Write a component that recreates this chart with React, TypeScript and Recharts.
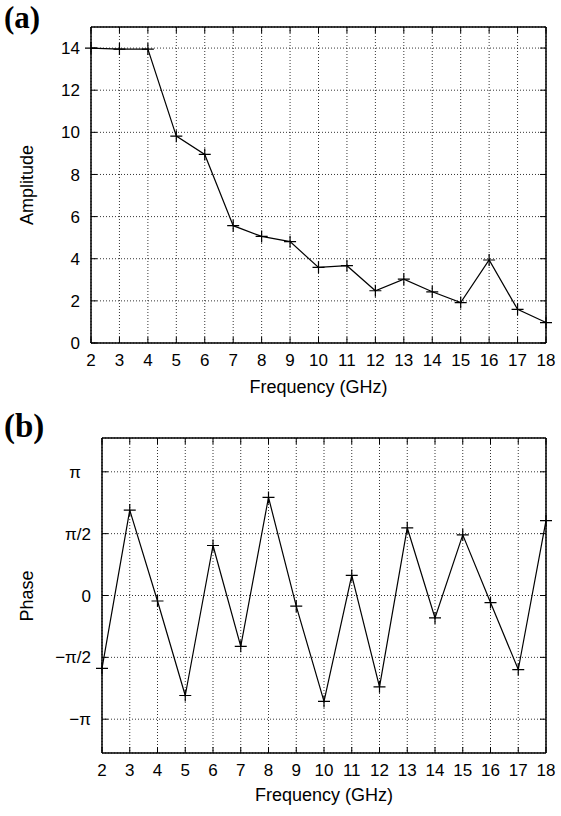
import React from 'react';
import { LineChart, Line, XAxis, YAxis, CartesianGrid } from 'recharts';

const freqs = [2, 3, 4, 5, 6, 7, 8, 9, 10, 11, 12, 13, 14, 15, 16, 17, 18];
const amplitude = [14.0, 13.95, 13.95, 9.82, 8.95, 5.57, 5.06, 4.81, 3.59, 3.67, 2.48, 3.03, 2.43, 1.92, 3.94, 1.6, 0.97];
const phase = [-1.85, 2.17, -0.14, -2.54, 1.27, -1.29, 2.49, -0.27, -2.69, 0.51, -2.32, 1.72, -0.57, 1.54, -0.18, -1.88, 1.9];
const ampTicks = [0, 2, 4, 6, 8, 10, 12, 14];
const phaseTicks = [-Math.PI, -Math.PI / 2, 0, Math.PI / 2, Math.PI];
const phaseTickLabels = ['\u2212\u03c0', '\u2212\u03c0/2', '0', '\u03c0/2', '\u03c0'];

const dataA = freqs.map((f, i) => ({ f, amp: amplitude[i] }));
const dataB = freqs.map((f, i) => ({ f, ph: phase[i] }));

const FONT = 'Liberation Sans, Arial, Helvetica, sans-serif';
const tickStyle = { fontSize: 17, fill: '#000', fontFamily: FONT };
const axisLine = { stroke: '#000', strokeWidth: 1.5 };
const tickLine = { stroke: '#000', strokeWidth: 1 };

const renderCross = (p: any) => {
  const { cx, cy, index } = p;
  if (cx == null || cy == null) return <g key={index} />;
  const s = 6;
  return (
    <path
      key={index}
      d={`M${cx - s},${cy}H${cx + s}M${cx},${cy - s}V${cy + s}`}
      stroke="#000"
      strokeWidth={1.2}
      fill="none"
    />
  );
};

const PhaseTick = (props: any) => {
  const { x, y, payload } = props;
  const idx = phaseTicks.findIndex((t) => Math.abs(t - payload.value) < 1e-6);
  const label = idx >= 0 ? phaseTickLabels[idx] : '';
  const dx = idx === 4 ? -10 : 0;
  return (
    <text x={x + dx} y={y} dy="0.355em" textAnchor="end" fontSize={17} fill="#000" fontFamily={FONT}>
      {label}
    </text>
  );
};

const blank = () => '';

type PanelProps = {
  data: any[];
  dataKey: string;
  domain: [number, number];
  yTicks: number[];
  yWidth: number;
  top: number;
  xHeight: number;
  yTick: any;
};

function Panel({ data, dataKey, domain, yTicks, yWidth, top, xHeight, yTick }: PanelProps) {
  return (
    <LineChart width={561} height={408} data={data} margin={{ top: top - 1, right: 14, bottom: 15, left: 0 }}>
      <CartesianGrid stroke="#000" strokeDasharray="1 2" strokeWidth={0.8} />
      <XAxis
        dataKey="f"
        type="number"
        domain={[2, 18]}
        ticks={freqs}
        interval={0}
        height={xHeight}
        tickSize={-6}
        tickMargin={17}
        tick={tickStyle}
        axisLine={axisLine}
        tickLine={tickLine}
      />
      <XAxis
        xAxisId="top"
        dataKey="f"
        orientation="top"
        type="number"
        domain={[2, 18]}
        ticks={freqs}
        interval={0}
        height={1}
        tickSize={-6}
        tickFormatter={blank}
        axisLine={axisLine}
        tickLine={tickLine}
      />
      <YAxis
        type="number"
        domain={domain}
        ticks={yTicks}
        interval={0}
        width={yWidth}
        tickSize={-6}
        tickMargin={17}
        tick={yTick}
        axisLine={axisLine}
        tickLine={tickLine}
      />
      <YAxis
        yAxisId="right"
        orientation="right"
        type="number"
        domain={domain}
        ticks={yTicks}
        interval={0}
        width={1}
        tickSize={-6}
        tickFormatter={blank}
        axisLine={axisLine}
        tickLine={tickLine}
      />
      <Line
        xAxisId="top"
        yAxisId="right"
        dataKey={dataKey}
        stroke="#000"
        strokeOpacity={0}
        dot={false}
        activeDot={false}
        legendType="none"
        isAnimationActive={false}
      />
      <Line dataKey={dataKey} stroke="#000" strokeWidth={1.2} dot={renderCross} isAnimationActive={false} />
    </LineChart>
  );
}

export default function App() {
  return (
    <div style={{ position: 'absolute', left: 0, top: 0, width: 561, height: 816, background: '#fff' }}>
      <div style={{ position: 'absolute', left: 0, top: 0 }}>
        <Panel data={dataA} dataKey="amp" domain={[0, 15]} yTicks={ampTicks} yWidth={91} top={27} xHeight={50} yTick={tickStyle} />
      </div>
      <div style={{ position: 'absolute', left: 0, top: 408 }}>
        <Panel data={dataB} dataKey="ph" domain={[-4, 4]} yTicks={phaseTicks} yWidth={102} top={30} xHeight={48} yTick={<PhaseTick />} />
      </div>
      <svg width={561} height={816} style={{ position: 'absolute', left: 0, top: 0, pointerEvents: 'none' }}>
        <text x={4} y={28} fontFamily="Liberation Serif, Times New Roman, serif" fontWeight="bold" fontSize={31} fill="#000">
          (a)
        </text>
        <text x={4} y={437} fontFamily="Liberation Serif, Times New Roman, serif" fontWeight="bold" fontSize={33} fill="#000">
          (b)
        </text>
        <text x={318.5} y={393} textAnchor="middle" fontFamily={FONT} fontSize={18} fill="#000">
          Frequency (GHz)
        </text>
        <text x={324} y={801} textAnchor="middle" fontFamily={FONT} fontSize={18} fill="#000">
          Frequency (GHz)
        </text>
        <text
          transform="translate(27,185) rotate(-90)"
          textAnchor="middle"
          dominantBaseline="central"
          fontFamily={FONT}
          fontSize={18}
          fill="#000"
        >
          Amplitude
        </text>
        <text
          transform="translate(27,596) rotate(-90)"
          textAnchor="middle"
          dominantBaseline="central"
          fontFamily={FONT}
          fontSize={18}
          fill="#000"
        >
          Phase
        </text>
      </svg>
    </div>
  );
}
